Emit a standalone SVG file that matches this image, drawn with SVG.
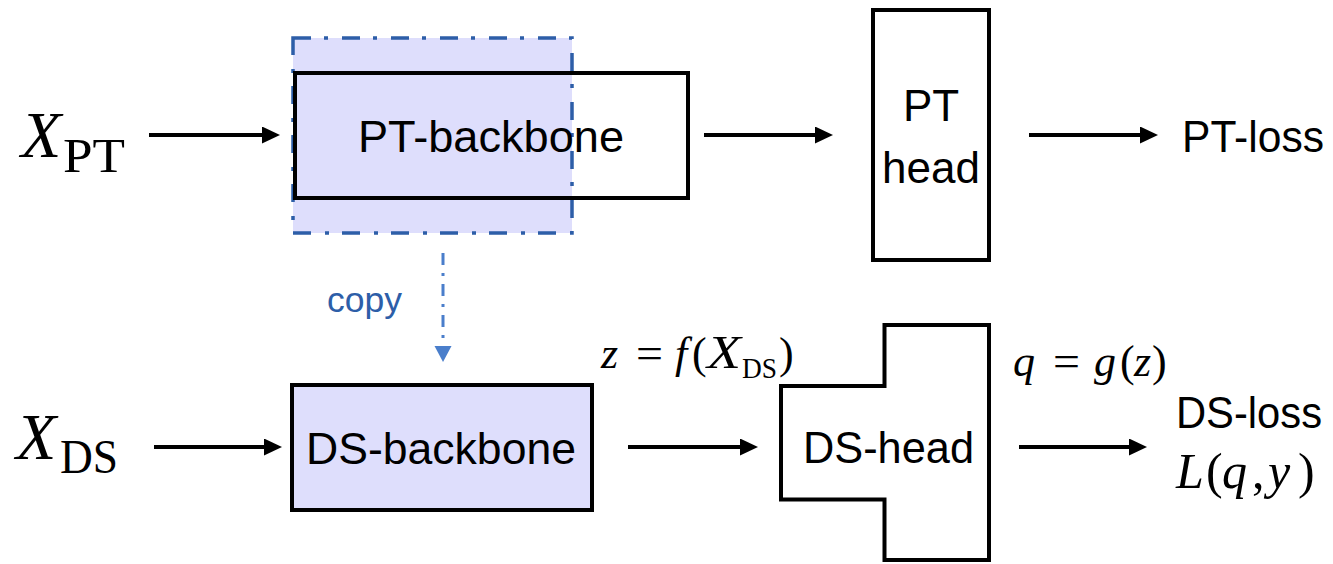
<svg xmlns="http://www.w3.org/2000/svg" width="1333" height="564" viewBox="0 0 1333 564">
  <style>
    .lbl { font-family: "Liberation Sans", Arial, sans-serif; font-size: 44px; fill: #000; }
    .math { font-family: "Liberation Serif", "Times New Roman", serif; fill: #000; }
    .it { font-style: italic; }
    .box { fill: none; stroke: #000; stroke-width: 4; }
    .arrow { stroke: #000; stroke-width: 4; fill: none; marker-end: url(#ah); }
    .copyline { stroke: #4a7ecb; stroke-width: 3; fill: none; stroke-dasharray: 12 8 3 8; marker-end: url(#ahBlue); }
  </style>
  <defs>
    <marker id="ah" markerUnits="userSpaceOnUse" markerWidth="20" markerHeight="20" refX="8" refY="8.5" orient="auto">
      <path d="M0,0 L18,8.5 L0,17 Z" fill="#000"/>
    </marker>
    <marker id="ahBlue" markerUnits="userSpaceOnUse" markerWidth="20" markerHeight="20" refX="6" refY="8.5" orient="auto">
      <path d="M0,0 L16,8.5 L0,17 Z" fill="#4a7ecb"/>
    </marker>
  </defs>

  <!-- inputs -->
  <g id="x-pt">
    <text class="math it" x="21" y="157" font-size="66">X</text>
    <text class="math" x="63" y="172" font-size="48" textLength="62" lengthAdjust="spacingAndGlyphs">PT</text>
  </g>
  <g id="x-ds">
    <text class="math it" x="16" y="459" font-size="66">X</text>
    <text class="math" x="60" y="473" font-size="48" textLength="58" lengthAdjust="spacingAndGlyphs">DS</text>
  </g>

  <!-- PT backbone with copied region -->
  <g id="pt-backbone">
    <rect x="293" y="38" width="279" height="195" fill="#dedefc" stroke="#2d5ea8" stroke-width="3.5" stroke-dasharray="18 13 4 14"/>
    <rect class="box" x="295" y="73" width="393" height="125"/>
    <text class="lbl" x="358" y="152" textLength="266" lengthAdjust="spacingAndGlyphs">PT-backbone</text>
  </g>

  <g id="pt-head">
    <rect class="box" x="873" y="10" width="116" height="250"/>
    <text class="lbl" x="931" y="121" text-anchor="middle">PT</text>
    <text class="lbl" x="931" y="183" text-anchor="middle">head</text>
  </g>

  <g id="pt-loss">
    <text class="lbl" x="1182" y="152" textLength="142" lengthAdjust="spacingAndGlyphs">PT-loss</text>
  </g>

  <g id="copy-label">
    <text x="327" y="312" font-family="'Liberation Sans', Arial, sans-serif" font-size="35" fill="#2d5ea8" textLength="75" lengthAdjust="spacingAndGlyphs">copy</text>
  </g>

  <g id="ds-backbone">
    <rect x="292" y="385" width="300" height="125" fill="#dedefc" stroke="#000" stroke-width="4"/>
    <text class="lbl" x="306" y="464" textLength="270" lengthAdjust="spacingAndGlyphs">DS-backbone</text>
  </g>

  <g id="z-label">
    <text class="math it" x="601" y="368" font-size="44">z</text>
    <text class="math" x="636" y="368" font-size="44" textLength="27" lengthAdjust="spacingAndGlyphs">=</text>
    <text class="math it" x="675" y="368" font-size="44">f</text>
    <text class="math" x="692" y="368" font-size="44">(</text>
    <text class="math it" x="707" y="368" font-size="46" textLength="34" lengthAdjust="spacingAndGlyphs">X</text>
    <text class="math" x="742" y="378" font-size="30" textLength="35" lengthAdjust="spacingAndGlyphs">DS</text>
    <text class="math" x="779" y="368" font-size="44">)</text>
  </g>

  <g id="ds-head">
    <path class="box" d="M884.5,325 L989,325 L989,560 L884.5,560 L884.5,499.5 L781,499.5 L781,386 L884.5,386 Z"/>
    <text class="lbl" x="803" y="463" textLength="171" lengthAdjust="spacingAndGlyphs">DS-head</text>
  </g>

  <g id="q-label">
    <text class="math it" x="1013" y="376" font-size="44">q</text>
    <text class="math" x="1053" y="376" font-size="44" textLength="27" lengthAdjust="spacingAndGlyphs">=</text>
    <text class="math it" x="1094" y="376" font-size="44">g</text>
    <text class="math" x="1120" y="376" font-size="44">(</text>
    <text class="math it" x="1134" y="376" font-size="44">z</text>
    <text class="math" x="1152" y="376" font-size="44">)</text>
  </g>

  <g id="ds-loss">
    <text class="lbl" x="1176" y="428" textLength="146" lengthAdjust="spacingAndGlyphs">DS-loss</text>
    <text class="math it" x="1176" y="488" font-size="50">L</text>
    <text class="math" x="1206" y="488" font-size="50">(</text>
    <text class="math it" x="1222" y="488" font-size="50">q</text>
    <text class="math" x="1252" y="488" font-size="50">,</text>
    <text class="math it" x="1268" y="488" font-size="50">y</text>
    <text class="math" x="1298" y="488" font-size="50">)</text>
  </g>

  <g id="connectors">
    <line class="arrow" x1="149" y1="135" x2="270" y2="135"/>
    <line class="arrow" x1="704" y1="135" x2="823" y2="135"/>
    <line class="arrow" x1="1029" y1="135" x2="1148" y2="135"/>
    <line class="arrow" x1="154" y1="447" x2="272" y2="447"/>
    <line class="arrow" x1="628" y1="447" x2="748" y2="447"/>
    <line class="arrow" x1="1019" y1="447" x2="1137" y2="447"/>
    <line class="copyline" x1="443" y1="253" x2="443" y2="352"/>
  </g>
</svg>
